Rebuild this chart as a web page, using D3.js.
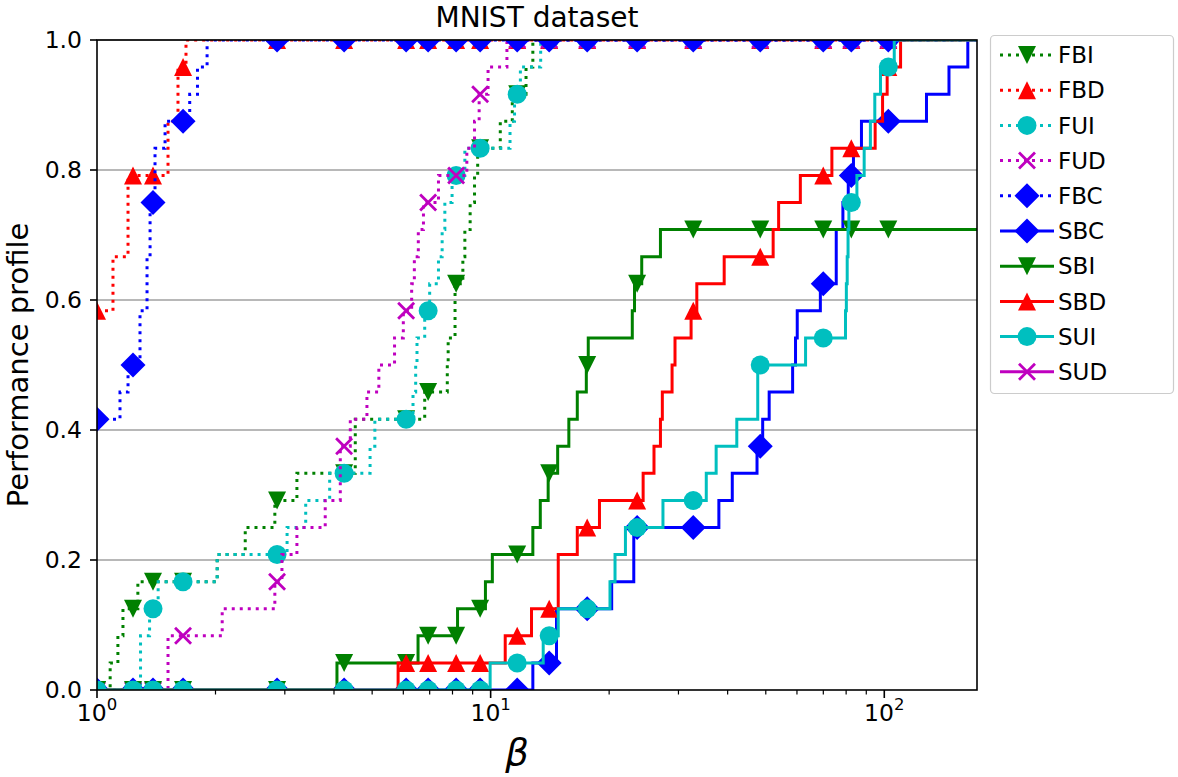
<!DOCTYPE html>
<html><head><meta charset="utf-8">
<script src="https://cdn.jsdelivr.net/npm/d3@7"></script>
<style>body{margin:0;background:#fff;} text{font-family:"DejaVu Sans",sans-serif;fill:#000;}</style>
</head><body><svg id="c" width="1178" height="777"></svg>
<script>
// ---- data: performance ratios of the 24 problems for each solver ----
const solvers = ["FBI","FBD","FUI","FUD","FBC","SBC","SBI","SBD","SUI","SUD"];
const nProblems = 24;
const ratiosFBI = [1.08,1.13,1.164,1.27,2.02,2.38,2.83,3.22,4.53,4.53,6.8,7.76,7.8,8.12,8.12,8.5,8.6,8.87,9.1,9.27,10.58,11.35,12.3,12.8];
const ratiosFBD = [1,1,1,1,1,1,1,1,1,1,1,1,1,1,1.098,1.098,1.199,1.199,1.199,1.515,1.515,1.606,1.606,1.683];
const ratiosFUI = [1.29,1.29,1.36,1.43,2.02,3.04,3.39,3.9,4.94,5.08,6.35,6.45,6.5,6.8,7.0,7.37,7.53,7.65,7.98,8.6,11.2,11.5,11.9,13.4];
const ratiosFUD = [1.515,1.515,2.08,2.83,2.95,3.22,3.8,4.15,4.15,4.4,4.85,5.2,5.7,6.0,6.3,6.4,6.55,6.75,7.37,8.7,9.1,9.35,9.85,11.0];
const ratiosFBC = [1,1,1,1,1,1,1,1,1,1,1.144,1.199,1.286,1.286,1.34,1.34,1.364,1.364,1.404,1.404,1.489,1.72,1.8,1.904];
const ratiosSBC = [12.8,14.7,14.7,20.3,23.1,23.1,38,41.1,47.5,49.1,51,58.5,59.5,60.1,68.8,75.5,75.5,78.5,81,83.5,87.5,128,146,163];
const ratiosSBI = [4.07,6.54,8.24,9.7,10.1,12.8,13.37,14.0,14.8,15.8,16.6,17.5,17.7,22.9,23.2,24.2,27,Infinity,Infinity,Infinity,Infinity,Infinity,Infinity,Infinity];
const ratiosSBD = [5.82,10.89,12.7,14.85,14.85,16.6,18.9,24.4,26,27,27.3,28.9,29.4,32.3,33.4,39.2,52.2,53.9,61.2,73.6,94.8,99.0,101.7,110];
const ratiosSUI = [9.97,13.6,14.85,20.1,20.7,22,27.4,35.3,37.4,42.2,47.7,47.7,63.1,79.7,80.1,80.5,80.9,81.3,85.2,88.9,92.2,94.6,97.8,106];
const ratiosSUD = [];
const markerTaus = [1,1.2345,1.3877,1.6543,2.867,4.2436,6.1,6.938,8.172,9.404,11.68,14.085,17.59,23.56,32.71,48.4,69.98,82.45,102.4];
const yTicks = [0,0.2,0.4,0.6,0.8,1.0];
const yGrid = [0.2,0.4,0.6,0.8,1.0];
const xMajorTicks = [1,10,100];
const xMajorExp = ["0","1","2"];
const tauMax = 172;
const titleText = "MNIST dataset";
const yLabelText = "Performance profile";
const xLabelText = "β";

const ratios = {FBI:ratiosFBI,FBD:ratiosFBD,FUI:ratiosFUI,FUD:ratiosFUD,FBC:ratiosFBC,SBC:ratiosSBC,SBI:ratiosSBI,SBD:ratiosSBD,SUI:ratiosSUI,SUD:ratiosSUD};
const color = {FBI:"#008000",FBD:"#ff0000",FUI:"#00bfbf",FUD:"#bf00bf",FBC:"#0000ff",SBC:"#0000ff",SBI:"#008000",SBD:"#ff0000",SUI:"#00bfbf",SUD:"#bf00bf"};
const marker = {FBI:"v",FBD:"^",FUI:"o",FUD:"x",FBC:"D",SBC:"D",SBI:"v",SBD:"^",SUI:"o",SUD:"x"};
const dotted = s => s[0]==="F";

// ---- layout ----
const L=97,R=977,T=40,B=690;
const svg=d3.select("#c");
const x=d3.scaleLog().domain([1,tauMax]).range([L,R]);
const y=d3.scaleLinear().domain([0,1]).range([B,T]);

svg.append("defs").append("clipPath").attr("id","clip").append("rect")
  .attr("x",L).attr("y",T).attr("width",R-L).attr("height",B-T);

// grid
svg.append("g").selectAll("line").data(yGrid).join("line")
  .attr("x1",L).attr("x2",R).attr("y1",d=>y(d)).attr("y2",d=>y(d))
  .attr("stroke","#a0a0a0").attr("stroke-width",1.6);

function rho(s,t){const r=ratios[s];let c=0;for(const v of r) if(v<=t) c++;return c/nProblems;}
function stepPoints(s){
  const r=ratios[s];
  const u=Array.from(new Set(r.filter(v=>v>1&&v<=tauMax))).sort((a,b)=>a-b);
  const pts=[[1,rho(s,1)]];
  u.forEach(v=>pts.push([v,rho(s,v)]));
  pts.push([tauMax,rho(s,tauMax)]);
  return pts;
}
function markerPath(m){
  if(m==="^"){const r=9;return `M0,${-r}L${r},${r}L${-r},${r}Z`;}
  if(m==="v"){const r=9;return `M0,${r}L${r},${-r}L${-r},${-r}Z`;}
  if(m==="D"){const r=12.5;return `M0,${-r}L${r},0L0,${r}L${-r},0Z`;}
  if(m==="o"){const r=9.5;return `M${r},0A${r},${r} 0 1,1 ${-r},0A${r},${r} 0 1,1 ${r},0Z`;}
  if(m==="x"){const r=8;return `M${-r},${-r}L${r},${r}M${-r},${r}L${r},${-r}`;}
}
function drawMarker(g,m,c,cx,cy){
  const p=g.append("path").attr("d",markerPath(m)).attr("transform",`translate(${cx},${cy})`);
  if(m==="x") p.attr("fill","none").attr("stroke",c).attr("stroke-width",2.8);
  else p.attr("fill",c).attr("stroke","none");
}

const line=d3.line().x(d=>x(d[0])).y(d=>y(d[1])).curve(d3.curveStepAfter);
const plot=svg.append("g").attr("clip-path","url(#clip)");
solvers.forEach(s=>{
  if(ratios[s].length===0) return;
  const g=plot.append("g");
  g.append("path").attr("d",line(stepPoints(s))).attr("fill","none")
   .attr("stroke",color[s]).attr("stroke-width",3)
   .attr("stroke-dasharray",dotted(s)?"3,5":null);
  markerTaus.forEach(t=>drawMarker(g,marker[s],color[s],x(t),y(rho(s,t))));
});

// frame
svg.append("rect").attr("x",L).attr("y",T).attr("width",R-L).attr("height",B-T)
  .attr("fill","none").attr("stroke","#000").attr("stroke-width",1.6);

// y axis ticks
const yt=svg.append("g");
yTicks.forEach(v=>{
  yt.append("line").attr("x1",L-7).attr("x2",L).attr("y1",y(v)).attr("y2",y(v)).attr("stroke","#000").attr("stroke-width",1.6);
  yt.append("text").attr("x",L-15).attr("y",y(v)).attr("dy","0.36em").attr("text-anchor","end")
    .attr("font-size",23.5).text(v.toFixed(1));
});
// x axis ticks
const xt=svg.append("g");
const minor=[];
for(let d=1; d<=100; d*=10) for(let k=2;k<=9;k++){const v=d*k; if(v<=tauMax) minor.push(v);}
minor.forEach(v=>xt.append("line").attr("x1",x(v)).attr("x2",x(v)).attr("y1",B).attr("y2",B+4.5).attr("stroke","#000").attr("stroke-width",1.2));
xMajorTicks.forEach((v,i)=>{
  xt.append("line").attr("x1",x(v)).attr("x2",x(v)).attr("y1",B).attr("y2",B+8).attr("stroke","#000").attr("stroke-width",1.6);
  const t=xt.append("text").attr("x",x(v)).attr("y",B+31).attr("text-anchor","middle").attr("font-size",23.5);
  t.append("tspan").text("10");
  t.append("tspan").attr("dy",-11).attr("font-size",16.5).text(xMajorExp[i]);
});

// labels
svg.append("text").attr("x",(L+R)/2).attr("y",27).attr("text-anchor","middle").attr("font-size",28).text(titleText);
svg.append("text").attr("transform",`translate(28,${(T+B)/2}) rotate(-90)`).attr("text-anchor","middle").attr("font-size",29).text(yLabelText);
svg.append("text").attr("x",517).attr("y",765).attr("text-anchor","middle").attr("font-size",37).attr("font-style","italic").text(xLabelText);

// legend
const lg=svg.append("g");
lg.append("rect").attr("x",990.5).attr("y",35.5).attr("width",183).attr("height",358).attr("rx",4)
  .attr("fill","#fff").attr("stroke","#cccccc").attr("stroke-width",1.2);
solvers.forEach((s,i)=>{
  const cy=55+i*35.2;
  lg.append("line").attr("x1",1000).attr("x2",1054).attr("y1",cy).attr("y2",cy)
    .attr("stroke",color[s]).attr("stroke-width",3).attr("stroke-dasharray",dotted(s)?"3,5":null);
  drawMarker(lg,marker[s],color[s],1027,cy);
  lg.append("text").attr("x",1058).attr("y",cy).attr("dy","0.36em").attr("font-size",23).text(s);
});
</script></body></html>
